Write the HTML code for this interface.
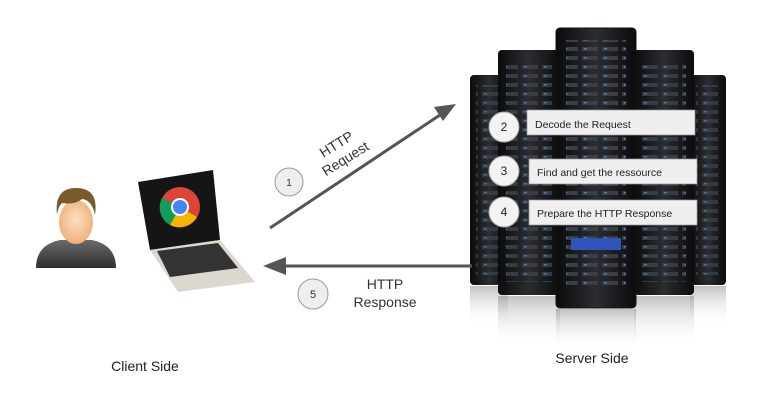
<!DOCTYPE html>
<html><head><style>
html,body{margin:0;padding:0;background:#fff;width:763px;height:410px;overflow:hidden}
svg{display:block}
text{font-family:"Liberation Sans",Arial,sans-serif}
</style></head><body>
<svg width="763" height="410" viewBox="0 0 763 410" xmlns="http://www.w3.org/2000/svg">
<defs>
<linearGradient id="rack" x1="0" x2="1" y1="0" y2="0">
<stop offset="0" stop-color="#0b0b0c"/><stop offset="0.5" stop-color="#2a2d31"/><stop offset="1" stop-color="#0b0b0c"/>
</linearGradient>
<linearGradient id="refl" x1="0" x2="0" y1="0" y2="1">
<stop offset="0" stop-color="#777" stop-opacity="0.45"/><stop offset="1" stop-color="#fff" stop-opacity="0"/>
</linearGradient>
<linearGradient id="body" x1="0" x2="0" y1="0" y2="1">
<stop offset="0" stop-color="#6a6a6a"/><stop offset="1" stop-color="#2e2e2e"/>
</linearGradient>
<radialGradient id="face" cx="0.5" cy="0.45" r="0.6">
<stop offset="0" stop-color="#fde0c0"/><stop offset="1" stop-color="#eeaa75"/>
</radialGradient>
<pattern id="units" width="20" height="9" patternUnits="userSpaceOnUse">
<rect width="20" height="9" fill="none"/>
<rect x="2" y="2" width="16" height="4" fill="#3a3f47"/>
<rect x="4" y="3" width="3" height="1.5" fill="#4a7fbf"/>
</pattern>
</defs>

<!-- reflections -->
<rect x="470" y="286" width="38" height="40" fill="url(#refl)"/>
<rect x="690" y="286" width="36" height="40" fill="url(#refl)"/>
<rect x="498" y="296" width="62" height="50" fill="url(#refl)"/>
<rect x="634" y="296" width="60" height="50" fill="url(#refl)"/>
<rect x="556" y="309" width="80" height="40" fill="url(#refl)"/>
<!-- racks -->
<rect x="470" y="75" width="38" height="210" rx="4" fill="url(#rack)"/>
<rect x="690" y="75" width="36" height="210" rx="4" fill="url(#rack)"/>
<rect x="498" y="50" width="62" height="245" rx="4" fill="url(#rack)"/>
<rect x="634" y="50" width="60" height="245" rx="4" fill="url(#rack)"/>
<rect x="556" y="28" width="80" height="280" rx="4" fill="url(#rack)" stroke="#111"/>
<rect x="476" y="85" width="26" height="190" fill="url(#units)" opacity="0.8"/>
<rect x="696" y="85" width="24" height="190" fill="url(#units)" opacity="0.8"/>
<rect x="506" y="62" width="46" height="220" fill="url(#units)" opacity="0.9"/>
<rect x="642" y="62" width="44" height="220" fill="url(#units)" opacity="0.9"/>
<rect x="566" y="40" width="60" height="250" fill="url(#units)"/>
<rect x="571" y="238" width="50" height="12" fill="#2f55b8"/>

<!-- step boxes -->
<rect x="527" y="110" width="168" height="25" fill="#efefef" stroke="#999" stroke-width="0.7"/>
<rect x="529" y="159" width="168" height="25" fill="#efefef" stroke="#999" stroke-width="0.7"/>
<rect x="529" y="200" width="168" height="25" fill="#efefef" stroke="#999" stroke-width="0.7"/>
<text x="535" y="128" font-size="10.5" fill="#222">Decode the Request</text>
<text x="537" y="176" font-size="10.5" fill="#222">Find and get the ressource</text>
<text x="537" y="217" font-size="10.5" fill="#222">Prepare the HTTP Response</text>
<circle cx="504" cy="127" r="15" fill="#f3f3f3" stroke="#aaa"/>
<circle cx="504" cy="171" r="15" fill="#f3f3f3" stroke="#aaa"/>
<circle cx="504" cy="212" r="15" fill="#f3f3f3" stroke="#aaa"/>
<text x="504" y="131" font-size="12" text-anchor="middle" fill="#222">2</text>
<text x="504" y="175" font-size="12" text-anchor="middle" fill="#222">3</text>
<text x="504" y="216" font-size="12" text-anchor="middle" fill="#222">4</text>

<!-- arrow 1 -->
<line x1="270" y1="228" x2="446" y2="111" stroke="#555" stroke-width="3"/>
<polygon points="456,104 434,107 443,121" fill="#555"/>
<circle cx="289" cy="182" r="14" fill="#eee" stroke="#999"/>
<text x="289" y="186" font-size="10" text-anchor="middle" fill="#333">1</text>
<g transform="translate(340,150) rotate(-32)">
<text x="0" y="-2" font-size="14" text-anchor="middle" fill="#333">HTTP</text>
<text x="0" y="15" font-size="14" text-anchor="middle" fill="#333">Request</text>
</g>

<!-- arrow 5 -->
<line x1="472" y1="266" x2="278" y2="266" stroke="#555" stroke-width="3"/>
<polygon points="263,266 286,257 286,275" fill="#555"/>
<circle cx="313" cy="294" r="15" fill="#eee" stroke="#999"/>
<text x="313" y="298" font-size="11" text-anchor="middle" fill="#333">5</text>
<text x="385" y="289" font-size="14" text-anchor="middle" fill="#333">HTTP</text>
<text x="385" y="307" font-size="14" text-anchor="middle" fill="#333">Response</text>

<!-- person -->
<path d="M36,268 Q36,245 60,240 L92,240 Q116,245 116,268 Z" fill="url(#body)"/>
<ellipse cx="76" cy="222" rx="17" ry="22" fill="url(#face)"/>
<path d="M57,215 Q54,188 76,188 Q99,188 95,215 Q92,200 82,199 Q75,205 62,203 Q58,207 57,215Z" fill="#7a5a2a"/>

<!-- laptop -->
<polygon points="138,182 213,170 220,240 150,250" fill="#151515"/>
<polygon points="150,250 220,240 255,282 178,292" fill="#dcd8cf"/>
<polygon points="157,251 218,243 238,268 170,277" fill="#333"/>
<circle cx="180" cy="207" r="20" fill="#db4437"/>
<path d="M180,207 L197,217 A20,20 0 0 1 170,225 Z" fill="#f4b400"/>
<path d="M180,207 L170,225 A20,20 0 0 1 162,198 Z" fill="#0f9d58"/>
<circle cx="180" cy="207" r="9" fill="#fff"/>
<circle cx="180" cy="207" r="7" fill="#4285f4"/>

<text x="145" y="371" font-size="14" text-anchor="middle" fill="#222">Client Side</text>
<text x="592" y="363" font-size="14" text-anchor="middle" fill="#222">Server Side</text>
</svg>
</body></html>
